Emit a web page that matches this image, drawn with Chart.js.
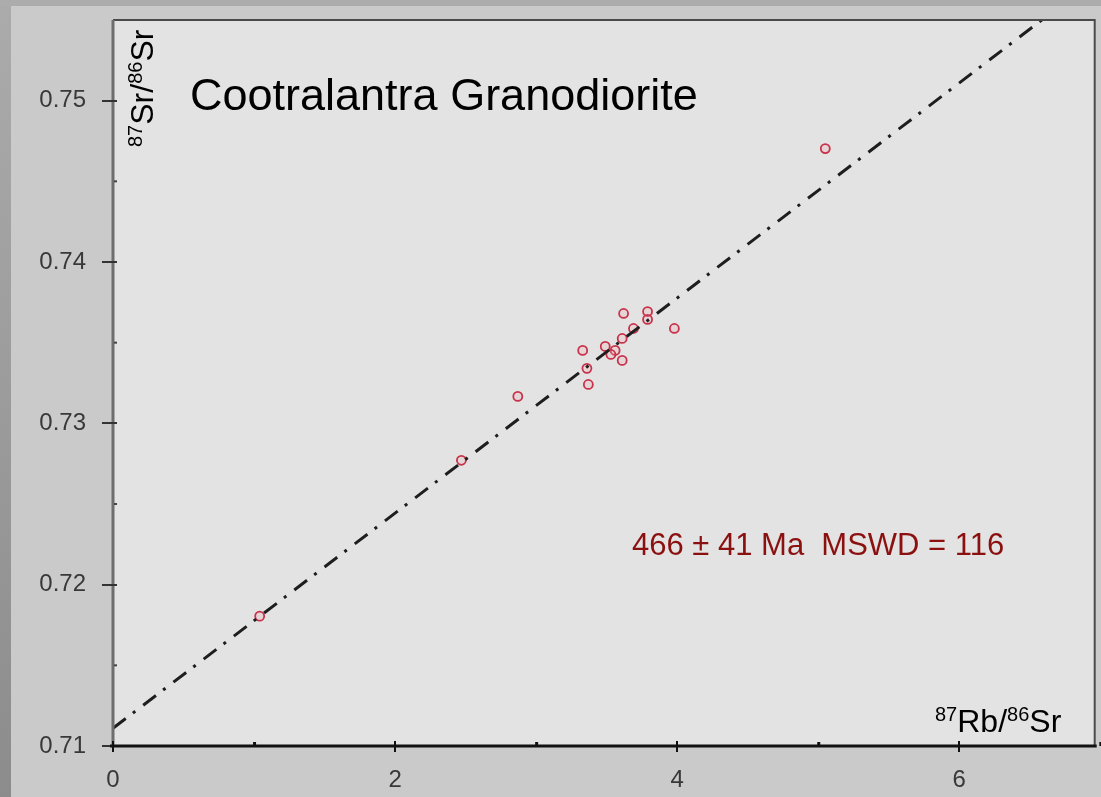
<!DOCTYPE html>
<html>
<head>
<meta charset="utf-8">
<title>Cootralantra Granodiorite</title>
<script src="https://cdn.jsdelivr.net/npm/chart.js@4/dist/chart.umd.min.js"></script>
<style>
  html, body { margin: 0; padding: 0; background: #cacaca; }
  canvas { display: block; }
</style>
</head>
<body>
<canvas id="isochron" width="1101" height="797"></canvas>
<script>
// measured samples, 87Rb/86Sr vs 87Sr/86Sr
var rbSr = [1.04, 2.47, 2.87, 3.33, 3.36, 3.37, 3.49, 3.56, 3.53, 3.61, 3.61, 3.62, 3.69, 3.79, 3.79, 3.98, 5.05];
var srSr = [0.71805, 0.72771, 0.73167, 0.73452, 0.73341, 0.73241, 0.73477, 0.73452, 0.73427, 0.73390, 0.73526, 0.73681, 0.73588, 0.73693, 0.73644, 0.73588, 0.74703];

// isochron end points
var fitX = [0, 6.6];
var fitY = [0.7111, 0.7551];

var xTicks = [0, 2, 4, 6];
var yTicks = [0.71, 0.72, 0.73, 0.74, 0.75];

var sans = "'Liberation Sans', Arial, sans-serif";

function toPoints(xs, ys) {
  return xs.map(function(x, i) { return { x: x, y: ys[i] }; });
}

// draws text made of pieces [text, size, raise]
function drawParts(ctx, parts, x, y) {
  parts.forEach(function(p) {
    ctx.font = p[1] + "px " + sans;
    ctx.fillText(p[0], x, y - p[2]);
    x += ctx.measureText(p[0]).width;
  });
}

var frame = {
  id: 'frame',
  beforeDraw: function(chart) {
    var ctx = chart.ctx, a = chart.chartArea;
    ctx.save();
    ctx.fillStyle = '#cacaca';
    ctx.fillRect(0, 0, chart.width, chart.height);
    var g = ctx.createLinearGradient(0, 0, 0, chart.height);
    g.addColorStop(0, '#ababab');
    g.addColorStop(1, '#8c8c8c');
    ctx.fillStyle = g;
    ctx.fillRect(0, 0, 11, chart.height);
    ctx.fillStyle = '#acacac';
    ctx.fillRect(0, 0, chart.width, 6);
    ctx.fillStyle = '#e3e3e3';
    ctx.fillRect(a.left, a.top, a.right - a.left, a.bottom - a.top);
    ctx.restore();
  },
  afterDatasetsDraw: function(chart) {
    var ctx = chart.ctx, a = chart.chartArea;
    var xs = chart.scales.x, ys = chart.scales.y;
    ctx.save();
    // top and right border
    ctx.strokeStyle = '#4a4a4a';
    ctx.lineWidth = 2;
    ctx.beginPath();
    ctx.moveTo(a.left, a.top);
    ctx.lineTo(a.right, a.top);
    ctx.lineTo(a.right, a.bottom);
    ctx.stroke();
    // left axis
    ctx.strokeStyle = '#6e6e6e';
    ctx.lineWidth = 3;
    ctx.beginPath();
    ctx.moveTo(a.left, a.top);
    ctx.lineTo(a.left, a.bottom);
    ctx.stroke();
    // y ticks
    ctx.strokeStyle = '#333';
    ctx.lineWidth = 2;
    yTicks.forEach(function(v) {
      var py = Math.round(ys.getPixelForValue(v));
      ctx.beginPath();
      ctx.moveTo(a.left - 11, py);
      ctx.lineTo(a.left + 4, py);
      ctx.stroke();
      var pm = ys.getPixelForValue(v + 0.005);
      if (v + 0.005 < ys.max) {
        ctx.fillStyle = '#444';
        ctx.fillRect(a.left + 1, pm - 1, 3, 2);
      }
    });
    // bottom axis
    ctx.strokeStyle = '#111';
    ctx.lineWidth = 3;
    ctx.beginPath();
    ctx.moveTo(a.left - 3, a.bottom);
    ctx.lineTo(a.right + 2, a.bottom);
    ctx.stroke();
    // x ticks
    ctx.lineWidth = 2;
    xTicks.forEach(function(v) {
      var px = Math.round(xs.getPixelForValue(v));
      ctx.beginPath();
      ctx.moveTo(px, a.bottom - 5);
      ctx.lineTo(px, a.bottom + 6);
      ctx.stroke();
      var pm = xs.getPixelForValue(v + 1);
      ctx.fillStyle = '#111';
      ctx.fillRect(pm - 1, a.bottom - 4, 3, 4);
    });
    ctx.restore();
  },
  afterDraw: function(chart) {
    var ctx = chart.ctx;
    ctx.save();
    ctx.textBaseline = 'alphabetic';
    ctx.textAlign = 'left';
    ctx.fillStyle = '#000';
    ctx.font = "45px " + sans;
    ctx.fillText('Cootralantra Granodiorite', 190, 110);

    ctx.fillStyle = '#8b1010';
    ctx.font = "31px " + sans;
    ctx.fillText('466 \u00b1 41 Ma  MSWD = 116', 632, 555);

    ctx.fillStyle = '#000';
    drawParts(ctx, [['87', 20, 11], ['Rb/', 32, 0], ['86', 20, 11], ['Sr', 32, 0]], 935, 732);

    ctx.translate(153, 147);
    ctx.rotate(-Math.PI / 2);
    drawParts(ctx, [['87', 20, 11], ['Sr/', 32, 0], ['86', 20, 11], ['Sr', 32, 0]], 0, 0);
    ctx.restore();
  }
};

new Chart(document.getElementById('isochron'), {
  type: 'scatter',
  data: {
    datasets: [
      {
        label: 'Isochron',
        data: toPoints(fitX, fitY),
        showLine: true,
        borderColor: '#1e1e1e',
        borderWidth: 3,
        borderDash: [16, 9, 3, 10],
        pointRadius: 0,
        fill: false
      },
      {
        label: 'Samples',
        data: toPoints(rbSr, srSr),
        pointStyle: 'circle',
        pointRadius: 4.5,
        borderWidth: 1.8,
        borderColor: '#c8324a',
        backgroundColor: 'rgba(240,170,180,0.25)'
      }
    ]
  },
  options: {
    responsive: false,
    animation: false,
    devicePixelRatio: 1,
    layout: { padding: { top: 20, right: 3, left: 0, bottom: 0 } },
    plugins: { legend: { display: false }, tooltip: { enabled: false } },
    scales: {
      x: {
        type: 'linear',
        min: 0,
        max: 6.96,
        grid: { display: false, drawTicks: false },
        border: { display: false },
        afterFit: function(s) {
          s.height = 51;
          s.paddingLeft = 0;
          s.paddingRight = 0;
        },
        ticks: {
          stepSize: 2,
          includeBounds: false,
          padding: 20,
          color: '#383838',
          font: { family: sans, size: 24 },
          callback: function(v) { return xTicks.indexOf(v) >= 0 ? String(v) : ''; }
        }
      },
      y: {
        type: 'linear',
        min: 0.71,
        max: 0.755,
        grid: { display: false, drawTicks: false },
        border: { display: false },
        afterFit: function(s) {
          s.width = 113;
          s.paddingTop = 0;
          s.paddingBottom = 0;
        },
        ticks: {
          stepSize: 0.01,
          includeBounds: false,
          padding: 27,
          color: '#383838',
          font: { family: sans, size: 24 },
          callback: function(v) { return v.toFixed(2); }
        }
      }
    }
  },
  plugins: [frame]
});
</script>
</body>
</html>
